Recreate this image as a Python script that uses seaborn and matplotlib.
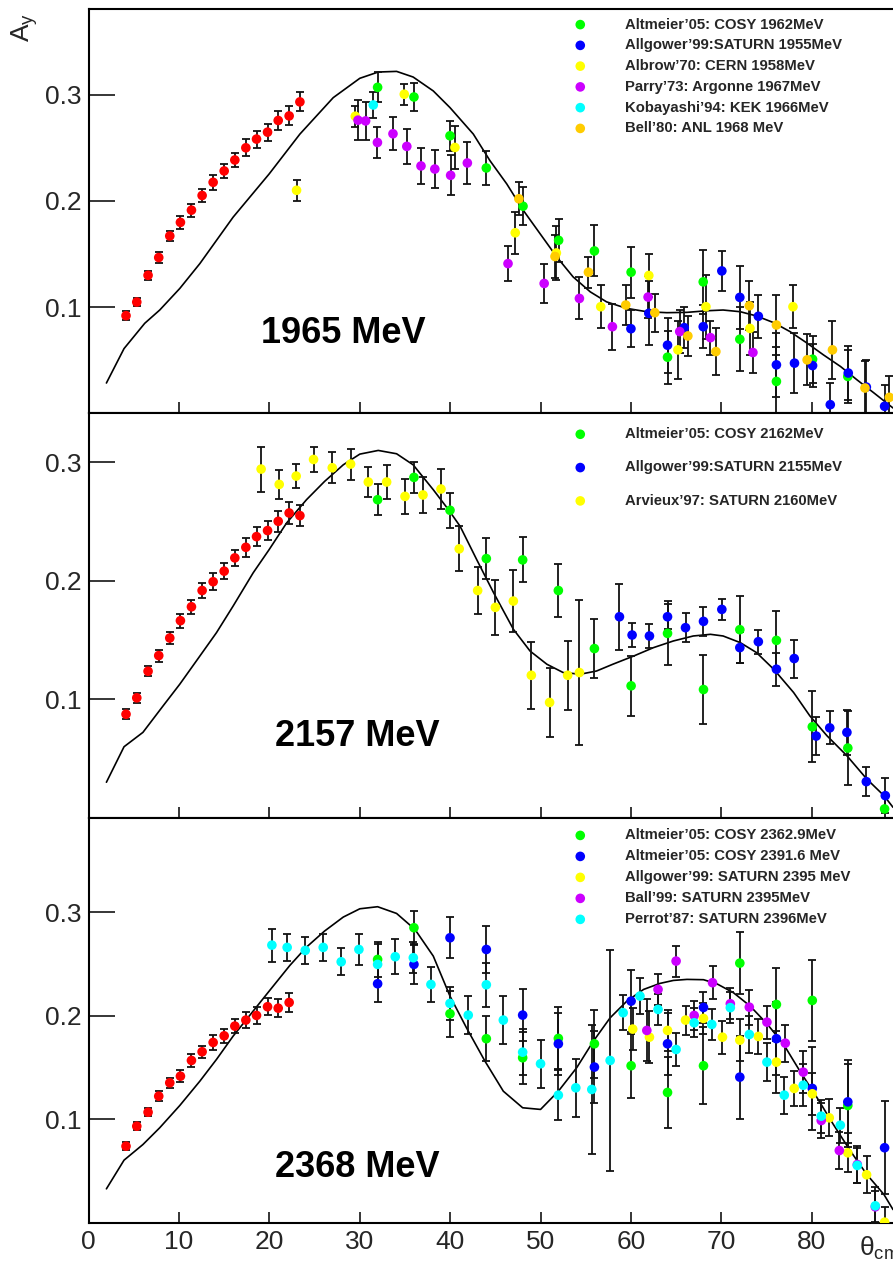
import matplotlib
matplotlib.use("Agg")
import matplotlib.pyplot as plt
import numpy as np
import pandas as pd
import seaborn as sns

# ---------------------------------------------------------------------------
# Shared low-angle measurements (red points), theta_cm in degrees
theta_red = [4.13, 5.32, 6.57, 7.75, 8.97, 10.15, 11.37, 12.55, 13.77, 14.99,
             16.17, 17.39, 18.57, 19.79, 20.97, 22.18, 23.37]
red_err = [0.004, 0.004, 0.004, 0.005, 0.005, 0.006, 0.006, 0.006, 0.007,
           0.007, 0.007, 0.008, 0.008, 0.008, 0.009, 0.009, 0.009]

# ---------------- 1965 MeV ----------------
red_1965 = [0.092, 0.1048, 0.130, 0.1467, 0.167, 0.1798, 0.1913, 0.2051,
            0.2175, 0.2282, 0.2385, 0.250, 0.2582, 0.2647, 0.2757, 0.280, 0.2932]

altmeier_1962_x = [31.97, 35.99, 39.98, 44.0, 48.06, 52.0, 55.96, 60.02, 64.05,
                   68.0, 72.05, 76.1, 80.1, 84.0]
altmeier_1962_y = [0.3069, 0.2978, 0.2613, 0.231, 0.195, 0.1629, 0.1529, 0.1329,
                   0.0529, 0.1238, 0.0698, 0.0301, 0.051, 0.0348]
altmeier_1962_e = [0.014, 0.013, 0.014, 0.016, 0.018, 0.020, 0.024, 0.024,
                   0.025, 0.030, 0.030, 0.032, 0.022, 0.025]

allgower_1955_x = [60.0, 61.98, 64.05, 65.9, 68.0, 70.06, 72.05, 74.1, 76.1,
                   78.1, 80.1, 82.06, 84.05, 86.05, 88.07]
allgower_1955_y = [0.0797, 0.0942, 0.0642, 0.0807, 0.0816, 0.1341, 0.1092,
                   0.0914, 0.0457, 0.0473, 0.045, 0.0082, 0.038, 0.0248, 0.0067]
allgower_1955_e = [0.0175, 0.030, 0.026, 0.019, 0.020, 0.019, 0.030, 0.020,
                   0.030, 0.028, 0.020, 0.020, 0.025, 0.025, 0.020]

albrow_1958_x = [23.0, 29.5, 34.92, 40.53, 47.2, 51.75, 56.66, 61.98, 65.2,
                 68.3, 73.17, 77.93]
albrow_1958_y = [0.210, 0.2797, 0.3004, 0.2503, 0.170, 0.151, 0.1004, 0.1298,
                 0.0598, 0.1004, 0.080, 0.1004]
albrow_1958_e = [0.010, 0.010, 0.010, 0.020, 0.020, 0.025, 0.020, 0.020,
                 0.027, 0.030, 0.025, 0.020]

parry_1967_x = [29.8, 30.64, 31.95, 33.67, 35.2, 36.77, 38.3, 40.05, 41.9,
                46.4, 50.4, 54.3, 57.95, 61.9, 65.4, 68.8, 73.5]
parry_1967_y = [0.276, 0.2753, 0.255, 0.2632, 0.2513, 0.2329, 0.230, 0.2241,
                0.2357, 0.141, 0.1223, 0.1082, 0.0816, 0.1095, 0.077, 0.0713,
                0.0573]
parry_1967_e = [0.019, 0.018, 0.015, 0.0156, 0.0164, 0.017, 0.018, 0.019,
                0.0195, 0.0164, 0.018, 0.0198, 0.0216, 0.020, 0.020, 0.016,
                0.0195]

kobayashi_1966_x = [31.49]
kobayashi_1966_y = [0.2903]
kobayashi_1966_e = [0.012]

bell_1968_x = [47.6, 51.6, 55.3, 59.43, 62.64, 66.3, 69.4, 73.1, 76.1, 79.5,
               82.3, 85.9, 88.6]
bell_1968_y = [0.202, 0.1477, 0.1329, 0.102, 0.0948, 0.0729, 0.0582, 0.1013,
               0.0832, 0.0504, 0.0598, 0.0239, 0.0151]
bell_1968_e = [0.0155, 0.020, 0.0147, 0.019, 0.018, 0.019, 0.022, 0.023,
               0.028, 0.024, 0.027, 0.025, 0.020]

theory_1965_x = [1.96, 3.91, 6.2, 7.86, 10.08, 12.3, 15.98, 19.97, 23.37, 27.06,
                 30.0, 32.04, 34.07, 35.9, 38.13, 39.98, 42.56, 44.4, 46.26,
                 48.1, 49.94, 51.8, 53.6, 55.5, 57.3, 59.5, 61.76, 63.97, 66.2,
                 68.4, 70.2, 72.1, 73.9, 75.8, 77.6, 79.5, 81.3, 83.2, 85.0,
                 86.9, 89.0]
theory_1965_y = [0.0286, 0.061, 0.0848, 0.0973, 0.1176, 0.141, 0.1847, 0.2254,
                 0.2629, 0.2972, 0.3154, 0.3213, 0.3219, 0.3166, 0.3035, 0.2878,
                 0.2629, 0.2379, 0.216, 0.191, 0.1692, 0.1472, 0.1285, 0.1144,
                 0.105, 0.0989, 0.0957, 0.0948, 0.0951, 0.0966, 0.0973, 0.0957,
                 0.0917, 0.0854, 0.077, 0.0661, 0.0551, 0.0441, 0.0317, 0.0192,
                 0.0051]

# ---------------- 2157 MeV ----------------
red_2157 = [0.0876, 0.1014, 0.1238, 0.137, 0.1518, 0.1664, 0.1781, 0.1918,
            0.1992, 0.2081, 0.2193, 0.2282, 0.2372, 0.2423, 0.2501, 0.2571,
            0.2549]

altmeier_2162_x = [31.97, 35.99, 39.98, 44.0, 48.02, 51.97, 55.96, 60.02, 64.05,
                   68.03, 72.05, 76.1, 80.07, 84.0, 88.07]
altmeier_2162_y = [0.2683, 0.2871, 0.2594, 0.2187, 0.2176, 0.1918, 0.1429,
                   0.1115, 0.1557, 0.1084, 0.1588, 0.1498, 0.077, 0.0591, 0.0078]
altmeier_2162_e = [0.013, 0.013, 0.0147, 0.017, 0.019, 0.022, 0.025, 0.025,
                   0.027, 0.029, 0.028, 0.025, 0.030, 0.031, 0.010]

allgower_2155_x = [58.73, 60.13, 62.05, 64.05, 66.04, 68.03, 70.06, 72.05, 74.1,
                   76.1, 78.07, 80.5, 82.0, 83.9, 86.05, 88.15]
allgower_2155_y = [0.1697, 0.1543, 0.1535, 0.1697, 0.1605, 0.1658, 0.1759,
                   0.1437, 0.1487, 0.1255, 0.1345, 0.0692, 0.0761, 0.0723,
                   0.0308, 0.019]
allgower_2155_e = [0.028, 0.010, 0.0098, 0.0105, 0.012, 0.012, 0.009, 0.013,
                   0.010, 0.014, 0.016, 0.016, 0.014, 0.019, 0.012, 0.015]

arvieux_2160_x = [19.08, 21.08, 22.96, 24.88, 26.95, 28.98, 30.94, 32.97, 35.0,
                  36.99, 38.98, 41.0, 43.04, 45.0, 46.99, 48.98, 51.0, 53.0,
                  54.3]
arvieux_2160_y = [0.2941, 0.2812, 0.2882, 0.3022, 0.2952, 0.2983, 0.2832, 0.2832,
                  0.2711, 0.2723, 0.2773, 0.2269, 0.1918, 0.1776, 0.1829, 0.1204,
                  0.0975, 0.1204, 0.1227]
arvieux_2160_e = [0.019, 0.012, 0.010, 0.0104, 0.013, 0.013, 0.013, 0.014,
                  0.015, 0.015, 0.0168, 0.019, 0.020, 0.023, 0.026, 0.028,
                  0.029, 0.029, 0.061]

theory_2157_x = [1.96, 3.91, 6.0, 8.23, 10.08, 12.3, 14.14, 15.98, 18.2, 19.97,
                 21.9, 24.1, 26.1, 28.17, 30.0, 32.04, 34.07, 35.9, 38.13, 39.8,
                 41.1, 42.93, 44.8, 47.0, 48.84, 50.7, 52.5, 54.4, 56.2, 58.0,
                 60.3, 62.5, 64.7, 66.9, 68.8, 70.2, 72.1, 73.9, 75.8, 78.0,
                 79.8, 81.7, 83.9, 86.1, 88.0, 89.0]
theory_2157_y = [0.0303, 0.0602, 0.0723, 0.0946, 0.1129, 0.1366, 0.1563, 0.1787,
                 0.2067, 0.2263, 0.2487, 0.2683, 0.2837, 0.2977, 0.3067, 0.3098,
                 0.307, 0.2977, 0.2767, 0.260, 0.2459, 0.2179, 0.19, 0.1591,
                 0.1408, 0.1297, 0.1227, 0.1213, 0.124, 0.1297, 0.1366, 0.1437,
                 0.1493, 0.1535, 0.1549, 0.1535, 0.1479, 0.1395, 0.1255, 0.1059,
                 0.0862, 0.0694, 0.0526, 0.033, 0.019, 0.0092]

# ---------------- 2368 MeV ----------------
red_2368 = [0.0742, 0.0935, 0.107, 0.1225, 0.1354, 0.1418, 0.157, 0.1654,
            0.1744, 0.1808, 0.1902, 0.196, 0.2005, 0.2089, 0.2075, 0.213]

altmeier_2363_x = [31.97, 35.99, 39.98, 44.0, 48.02, 51.97, 55.96, 60.02, 64.05,
                   68.03, 72.05, 76.1, 80.07, 84.0]
altmeier_2363_y = [0.2546, 0.2852, 0.2021, 0.178, 0.1596, 0.1783, 0.1731, 0.1519,
                   0.1261, 0.1519, 0.251, 0.2111, 0.215, 0.1135]
altmeier_2363_e = [0.017, 0.016, 0.022, 0.022, 0.025, 0.030, 0.033, 0.031,
                   0.034, 0.037, 0.030, 0.035, 0.039, 0.040]

altmeier_2392_x = [31.97, 35.99, 39.98, 44.0, 48.02, 51.97, 55.96, 60.02, 64.05,
                   68.03, 72.05, 76.1, 80.07, 84.0, 88.07]
altmeier_2392_y = [0.2311, 0.2498, 0.2755, 0.2642, 0.2008, 0.1731, 0.1506,
                   0.2143, 0.1731, 0.2082, 0.1409, 0.178, 0.130, 0.117, 0.0727]
altmeier_2392_e = [0.018, 0.019, 0.020, 0.0225, 0.025, 0.030, 0.035, 0.030,
                   0.030, 0.015, 0.040, 0.035, 0.040, 0.040, 0.045]

allgower_2395_x = [60.2, 62.05, 64.05, 66.04, 68.03, 70.13, 72.05, 74.1, 76.1,
                   78.07, 80.07, 81.95, 84.0, 86.08, 88.07]
allgower_2395_y = [0.1873, 0.1795, 0.186, 0.196, 0.1976, 0.1795, 0.1766, 0.1802,
                   0.1554, 0.130, 0.1248, 0.1016, 0.0678, 0.0466, 0.0008]
allgower_2395_e = [0.020, 0.025, 0.020, 0.014, 0.015, 0.016, 0.020, 0.017,
                   0.030, 0.017, 0.020, 0.018, 0.019, 0.018, 0.015]

ball_2395_x = [61.76, 63.0, 65.0, 67.0, 69.03, 71.0, 73.1, 75.05, 77.08, 79.07,
               81.06, 83.06, 85.05, 87.04]
ball_2395_y = [0.186, 0.2256, 0.253, 0.2005, 0.2321, 0.2118, 0.2085, 0.194,
               0.1737, 0.1457, 0.099, 0.070, 0.0565, 0.0156]
ball_2395_e = [0.030, 0.015, 0.015, 0.014, 0.016, 0.015, 0.017, 0.016, 0.018,
               0.020, 0.017, 0.018, 0.018, 0.015]

perrot_2396_x = [20.27, 21.96, 23.96, 25.95, 27.94, 29.9, 31.97, 33.92, 35.92,
                 37.87, 39.98, 42.0, 44.0, 45.88, 48.02, 50.0, 51.97, 53.9,
                 55.67, 57.7, 59.14, 61.0, 63.0, 65.0, 67.0, 68.95, 71.0, 73.1,
                 75.05, 76.97, 79.07, 81.06, 83.17, 85.05, 87.04]
perrot_2396_y = [0.2684, 0.2662, 0.2633, 0.2662, 0.2523, 0.2642, 0.2498, 0.2572,
                 0.2562, 0.2304, 0.2121, 0.2008, 0.2301, 0.196, 0.165, 0.1538,
                 0.1235, 0.1306, 0.129, 0.157, 0.2031, 0.2192, 0.2063, 0.1676,
                 0.1934, 0.1918, 0.208, 0.1821, 0.1554, 0.1235, 0.1331, 0.1032,
                 0.0945, 0.0556, 0.0166]
perrot_2396_e = [0.016, 0.013, 0.013, 0.013, 0.013, 0.015, 0.020, 0.017, 0.015,
                 0.017, 0.016, 0.018, 0.021, 0.023, 0.022, 0.023, 0.024, 0.028,
                 0.062, 0.107, 0.017, 0.017, 0.015, 0.016, 0.014, 0.015, 0.015,
                 0.018, 0.018, 0.018, 0.020, 0.016, 0.017, 0.017, 0.018]

theory_2368_x = [1.96, 3.91, 6.0, 7.86, 10.08, 12.3, 14.14, 15.98, 18.2, 19.97,
                 22.26, 24.1, 26.1, 28.17, 30.0, 31.97, 34.07, 36.1, 38.13, 39.98,
                 41.8, 43.85, 45.88, 48.02, 50.0, 51.97, 54.0, 55.85, 57.7, 59.55,
                 61.4, 63.2, 64.7, 66.2, 68.03, 69.5, 71.35, 73.2, 75.05, 76.9,
                 78.7, 80.6, 82.4, 84.3, 86.1, 88.0, 89.0]
theory_2368_y = [0.033, 0.0607, 0.0758, 0.092, 0.1135, 0.137, 0.158, 0.1805,
                 0.2047, 0.224, 0.2488, 0.2665, 0.282, 0.2955, 0.3035, 0.3055,
                 0.299, 0.2836, 0.2578, 0.2191, 0.1886, 0.1563, 0.1273, 0.1113,
                 0.1097, 0.1273, 0.150, 0.1757, 0.1982, 0.2143, 0.2256, 0.2314,
                 0.2343, 0.2353, 0.235, 0.2311, 0.2224, 0.2095, 0.1925, 0.1725,
                 0.1467, 0.121, 0.0952, 0.0694, 0.0469, 0.0275, 0.013]

# ---------------------------------------------------------------------------
GREEN, BLUE, YELLOW = "#00ff00", "#0000ff", "#ffff00"
VIOLET, CYAN, ORANGE, RED = "#cc00ff", "#00ffff", "#ffcc00", "#ff0000"


def frame(label, x, y, e):
    return pd.DataFrame({"theta": x, "ay": y, "err": e, "set": label})


panels = [
    dict(
        title="1965 MeV", ylim=(0.0, 0.381), title_xy=(28.2, 0.0756),
        red=red_1965, theory=(theory_1965_x, theory_1965_y),
        sets=[
            ("Altmeier’05: COSY 1962MeV", GREEN, altmeier_1962_x, altmeier_1962_y, altmeier_1962_e),
            ("Allgower’99:SATURN 1955MeV", BLUE, allgower_1955_x, allgower_1955_y, allgower_1955_e),
            ("Albrow’70: CERN 1958MeV", YELLOW, albrow_1958_x, albrow_1958_y, albrow_1958_e),
            ("Parry’73: Argonne 1967MeV", VIOLET, parry_1967_x, parry_1967_y, parry_1967_e),
            ("Kobayashi’94: KEK 1966MeV", CYAN, kobayashi_1966_x, kobayashi_1966_y, kobayashi_1966_e),
            ("Bell’80: ANL 1968 MeV", ORANGE, bell_1968_x, bell_1968_y, bell_1968_e),
        ],
        legend_y=0.978, spacing=0.455,
    ),
    dict(
        title="2157 MeV", ylim=(0.0, 0.341), title_xy=(29.7, 0.0687),
        red=red_2157, theory=(theory_2157_x, theory_2157_y),
        sets=[
            ("Altmeier’05: COSY 2162MeV", GREEN, altmeier_2162_x, altmeier_2162_y, altmeier_2162_e),
            ("Allgower’99:SATURN 2155MeV", BLUE, allgower_2155_x, allgower_2155_y, allgower_2155_e),
            ("Arvieux’97: SATURN 2160MeV", YELLOW, arvieux_2160_x, arvieux_2160_y, arvieux_2160_e),
        ],
        legend_y=0.966, spacing=1.30,
    ),
    dict(
        title="2368 MeV", ylim=(0.0, 0.391), title_xy=(29.7, 0.0536),
        red=red_2368, theory=(theory_2368_x, theory_2368_y),
        sets=[
            ("Altmeier’05: COSY 2362.9MeV", GREEN, altmeier_2363_x, altmeier_2363_y, altmeier_2363_e),
            ("Altmeier’05: COSY 2391.6 MeV", BLUE, altmeier_2392_x, altmeier_2392_y, altmeier_2392_e),
            ("Allgower’99: SATURN 2395 MeV", YELLOW, allgower_2395_x, allgower_2395_y, allgower_2395_e),
            ("Ball’99: SATURN 2395MeV", VIOLET, ball_2395_x, ball_2395_y, ball_2395_e),
            ("Perrot’87: SATURN 2396MeV", CYAN, perrot_2396_x, perrot_2396_y, perrot_2396_e),
        ],
        legend_y=0.975, spacing=0.47,
    ),
]

sns.set_theme(style="ticks")
plt.rcParams["font.family"] = ["Liberation Sans", "DejaVu Sans"]
plt.rcParams["mathtext.fontset"] = "custom"
plt.rcParams["mathtext.rm"] = "Liberation Sans"

W, H = 893, 1269
fig = plt.figure(figsize=(W / 100, H / 100), dpi=100)
left = 88.7 / W
bottom = 46.0 / H
ph = 404.8 / H

MS = 48  # marker area (pt^2)
XMAX = 89.05
LEG_FS = 10.7
marker_gap = 45.0 / (LEG_FS * 100 / 72)  # marker centre to label start, in font units

for i, p in enumerate(panels):
    ax = fig.add_axes([left, bottom + (2 - i) * ph, 1.0 - left + 0.0005, ph])

    # model curve
    sns.lineplot(x=p["theory"][0], y=p["theory"][1], ax=ax, color="black",
                 lw=1.2, sort=False, estimator=None, zorder=2)

    # red low-angle data
    n = len(p["red"])
    red_df = frame("red", theta_red[:n], p["red"], red_err[:n])
    ax.errorbar(red_df["theta"], red_df["ay"], yerr=red_df["err"], fmt="none",
                ecolor="#111111", elinewidth=1.3, capsize=3.2, capthick=1.3,
                zorder=3)
    sns.scatterplot(data=red_df, x="theta", y="ay", ax=ax, color=RED, s=MS,
                    edgecolor="none", linewidth=0, zorder=4, legend=False)

    handles = []
    for label, color, x, y, e in p["sets"]:
        df = frame(label, x, y, e)
        ax.errorbar(df["theta"], df["ay"], yerr=df["err"], fmt="none",
                    ecolor="#111111", elinewidth=1.3, capsize=3.2,
                    capthick=1.3, zorder=3)
        sns.scatterplot(data=df, x="theta", y="ay", ax=ax, color=color, s=MS,
                        edgecolor="none", linewidth=0, zorder=4, legend=False)
        handles.append(ax.collections[-1])

    hl = 2.0
    leg_x0 = (580 - hl / 2 * LEG_FS * 100 / 72 - 88.7) / (W - 88.7)
    ax.legend(handles, [s[0] for s in p["sets"]], loc="upper left",
              bbox_to_anchor=(leg_x0, p["legend_y"]), frameon=False,
              borderpad=0, borderaxespad=0, handlelength=hl,
              handletextpad=marker_gap - hl / 2, labelspacing=p["spacing"],
              scatterpoints=1, prop=dict(size=LEG_FS, weight="bold"))

    ax.text(p["title_xy"][0], p["title_xy"][1], p["title"], ha="center",
            va="center", fontsize=26, fontweight="bold", color="black")

    ax.set_xlim(0, XMAX)
    ax.set_ylim(*p["ylim"])
    ax.set_xticks([0, 10, 20, 30, 40, 50, 60, 70, 80])
    ax.set_yticks([0.1, 0.2, 0.3])
    ax.set_yticklabels(["0.1", "0.2", "0.3"])
    ax.set_xlabel("")
    ax.set_ylabel("")
    ax.tick_params(axis="x", direction="in", length=8.2, width=1.1,
                   top=False, bottom=True, labelsize=19, pad=5,
                   labelbottom=(i == 2), color="black")
    ax.tick_params(axis="y", direction="in", length=19, width=1.1,
                   left=True, right=False, labelsize=19, pad=5, color="black")
    for side in ("left", "bottom", "top"):
        ax.spines[side].set_linewidth(1.5)
        ax.spines[side].set_color("black")
    ax.spines["right"].set_visible(False)
    ax.set_facecolor("white")

fig.text(25 / W, 1 - 27 / H, r"A$_{\mathregular{y}}$", rotation=90,
         ha="center", va="center", fontsize=19)
fig.text(859 / W, 1 - 1256 / H, r"θ$_{\mathregular{cm}}$", ha="left",
         va="baseline", fontsize=19)

fig.savefig("out.png", dpi=100, facecolor="white")
